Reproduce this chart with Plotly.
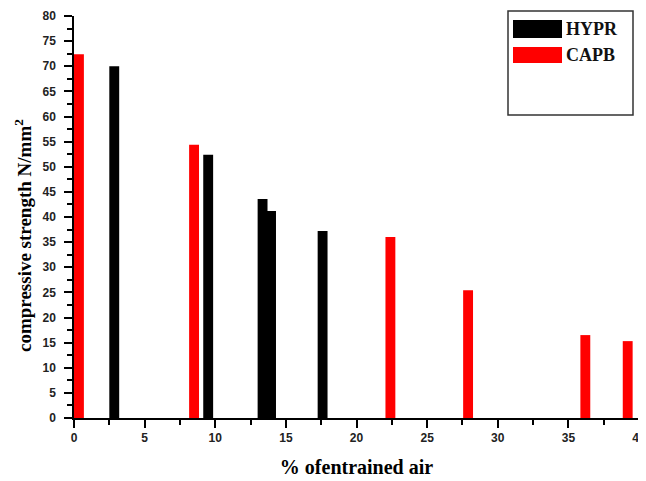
import plotly.graph_objects as go

# Data
hypr_air = [2.85, 9.5, 13.35, 13.95, 17.6]
hypr_strength = [70.0, 52.4, 43.6, 41.2, 37.2]
capb_air = [0.35, 8.5, 22.4, 27.9, 36.2, 39.2]
capb_strength = [72.4, 54.4, 36.0, 25.4, 16.5, 15.3]
x_ticks = [0, 5, 10, 15, 20, 25, 30, 35, 40]
y_ticks = list(range(0, 81, 5))

bar_w = 0.7

fig = go.Figure()
fig.add_trace(go.Bar(x=hypr_air, y=hypr_strength, width=[bar_w] * len(hypr_air),
                     marker=dict(color="black", line=dict(width=0)), name="HYPR"))
fig.add_trace(go.Bar(x=capb_air, y=capb_strength, width=[bar_w] * len(capb_air),
                     marker=dict(color="#ff0000", line=dict(width=0)), name="CAPB"))

tickfont = dict(family="Liberation Sans", size=12, color="#222", weight="bold")
fig.update_xaxes(range=[0, 40], tickvals=x_ticks, ticktext=[str(v) for v in x_ticks],
                 ticks="outside", ticklen=8, tickwidth=1.5, tickcolor="black",
                 minor=dict(dtick=2.5, tick0=0, ticks="outside", ticklen=5, tickwidth=1.5, tickcolor="black"),
                 showline=True, linecolor="black", linewidth=1.5, showgrid=False, zeroline=False,
                 tickfont=tickfont, automargin=False,
                 title=dict(text="<b>% ofentrained air</b>",
                            font=dict(family="Liberation Serif", size=20, color="black"), standoff=16))
fig.update_yaxes(range=[0, 80], tickvals=y_ticks, ticktext=[str(v) for v in y_ticks],
                 ticks="outside", ticklen=8, tickwidth=1.5, tickcolor="black",
                 minor=dict(dtick=2.5, tick0=0, ticks="outside", ticklen=5, tickwidth=1.5, tickcolor="black"),
                 showline=True, linecolor="black", linewidth=1.5, showgrid=False, zeroline=False,
                 tickfont=tickfont, automargin=False, ticklabelstandoff=6)

# Figure is placed 8px from the page corner (body margin)
OFF = 8
W, H = 646, 481
ml, mt = 74 - OFF, 418 - 402 - OFF
plot_right, plot_bottom = 639 - OFF, 418 - OFF
mr, mb = W - plot_right, H - plot_bottom
pw, ph = plot_right - ml, plot_bottom - mt

def px(x):
    return (x - OFF - ml) / pw

def py(y):
    return 1 - (y - OFF - mt) / ph

shapes = [
    dict(type="rect", xref="paper", yref="paper", x0=px(508), x1=px(633), y0=py(115), y1=py(11),
         line=dict(color="#333", width=1.5), fillcolor="white", layer="above"),
    dict(type="rect", xref="paper", yref="paper", x0=px(513), x1=px(562), y0=py(38), y1=py(20),
         line=dict(width=0), fillcolor="black", layer="above"),
    dict(type="rect", xref="paper", yref="paper", x0=px(513), x1=px(562), y0=py(63), y1=py(47),
         line=dict(width=0), fillcolor="#ff0000", layer="above"),
]
annotations = [
    dict(xref="paper", yref="paper", x=px(564), y=py(29), text="<b>HYPR</b>", showarrow=False,
         xanchor="left", yanchor="middle", font=dict(family="Liberation Serif", size=18, color="#111")),
    dict(xref="paper", yref="paper", x=px(564), y=py(55), text="<b>CAPB</b>", showarrow=False,
         xanchor="left", yanchor="middle", font=dict(family="Liberation Serif", size=18, color="#111")),
    dict(xref="paper", yref="paper", x=px(23), y=py(236), text="<b>compressive strength N/mm<sup>2</sup></b>",
         showarrow=False, textangle=-90, xanchor="center", yanchor="middle",
         font=dict(family="Liberation Serif", size=19, color="black")),
]

fig.update_layout(width=W, height=H, margin=dict(l=ml, r=mr, t=mt, b=mb),
                  paper_bgcolor="white", plot_bgcolor="white", showlegend=False,
                  barmode="overlay", shapes=shapes, annotations=annotations)

fig.write_html("out.html")
